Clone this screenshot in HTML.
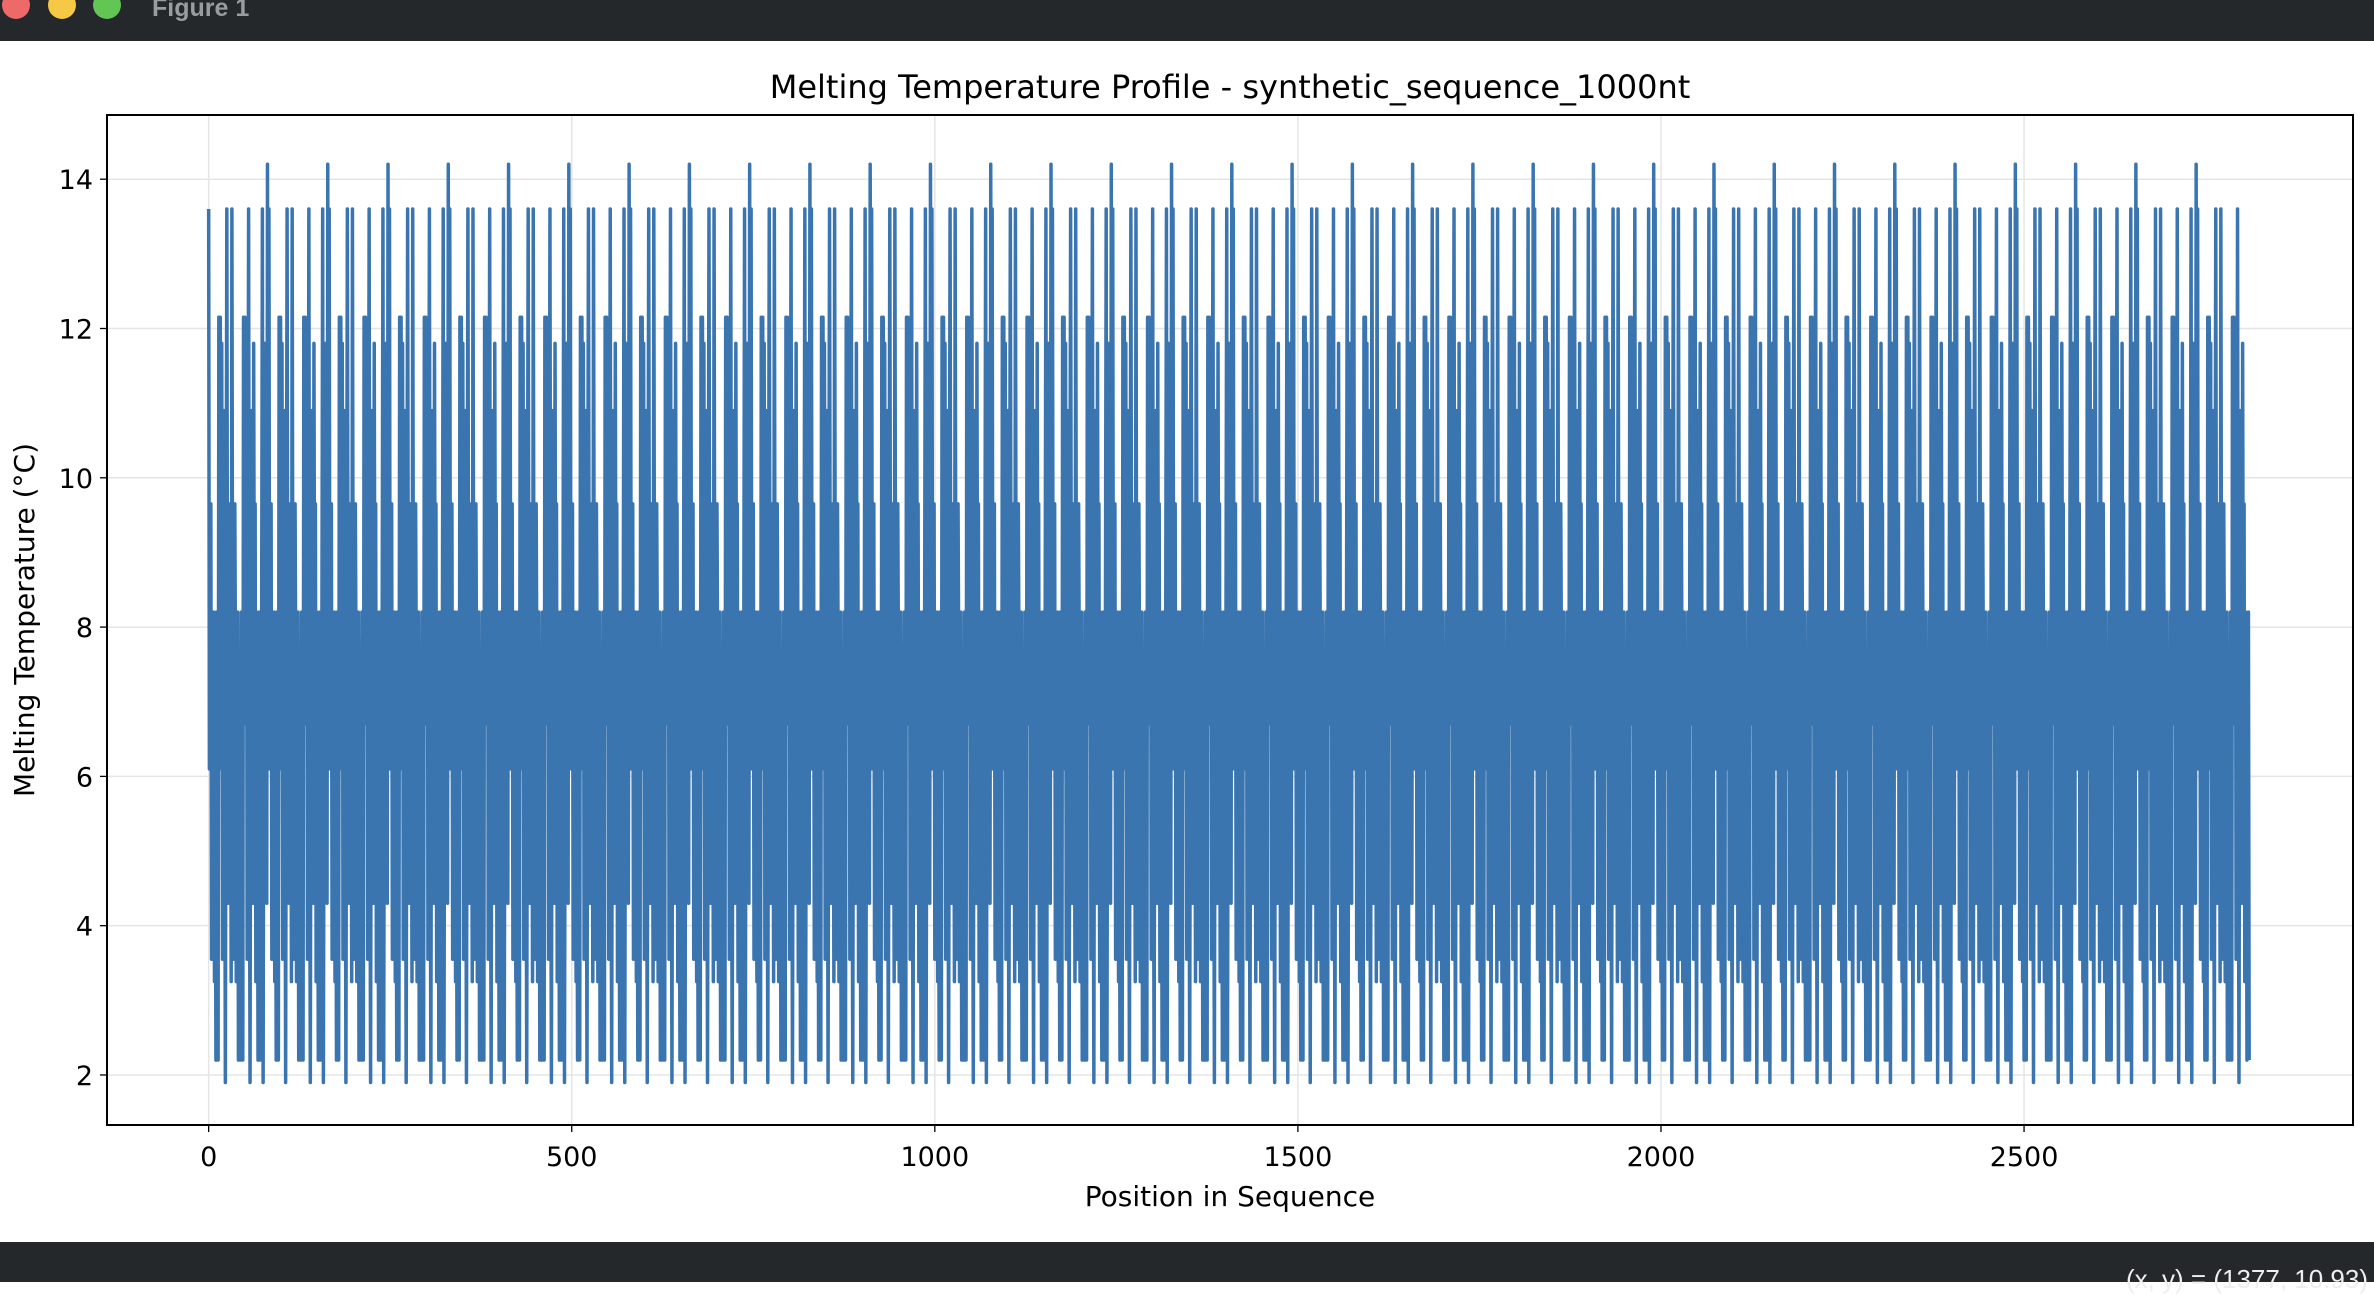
<!DOCTYPE html>
<html><head><meta charset="utf-8"><style>
body{margin:0;width:2374px;height:1282px;background:#fff;overflow:hidden;font-family:"DejaVu Sans","Liberation Sans",sans-serif}
#top{position:absolute;left:0;top:0;width:2374px;height:41px;background:#24282b}
#bot{position:absolute;left:0;top:1242px;width:2374px;height:40px;background:#24282b}
.dot{position:absolute;top:-9px;width:28px;height:28px;border-radius:50%}
</style></head><body>
<div id="top">
<div class="dot" style="left:2px;background:#ee6a69"></div>
<div class="dot" style="left:48px;background:#f5c945"></div>
<div class="dot" style="left:93px;background:#62c554"></div>
<div style="position:absolute;left:152px;top:-6px;color:#9a9d9f;font:bold 25px 'Liberation Sans',sans-serif">Figure 1</div>
</div>
<div id="bot">
<div style="position:absolute;right:6px;top:22px;color:#eee;font:26px 'Liberation Sans',sans-serif">(x, y) = (1377, 10.93)</div>
</div>
<svg id="chart" width="2374" height="1282" style="position:absolute;left:0;top:0">
<g id="grid"></g><g id="series"></g><g id="axes"></g>
</svg>
<script>
const motif=[13.6,6.1,8.2,9.65,3.55,7.3,4.7,8.2,3.25,6.7,2.2,8.2,7.3,2.2,12.15,6.1,12.15,7.3,11.8,3.55,8.2,10.9,6.7,1.9,8.2,13.6,7.3,4.3,9.65,6.1,8.2,3.25,13.6,7.3,3.55,8.2,9.65,7.3,3.25,6.7,8.2,2.2,7.3,6.1,2.2,8.2,7.3,2.2,12.15,6.7,12.15,7.3,11.8,3.55,8.2,13.6,6.1,1.9,8.2,10.9,7.3,4.3,11.8,6.7,9.65,3.25,8.2,6.7,2.2,7.3,8.2,2.2,6.1,8.2,13.6,1.9,7.3,11.8,6.7,10.9,4.3,14.2,7.3];
const seriesLength=2811;
const xTicks=[0,500,1000,1500,2000,2500];
const yTicks=[2,4,6,8,10,12,14];
const values=[];for(let i=0;i<seriesLength;i++)values.push(motif[i%motif.length]);
const L=107,R=2353,T=115,B=1125,x0=-140,x1=2953,y0=1.33,y1=14.86;
const X=v=>L+(v-x0)/(x1-x0)*(R-L), Y=v=>B-(v-y0)/(y1-y0)*(B-T);
const NS="http://www.w3.org/2000/svg";
function mk(tag,at,par){const e=document.createElementNS(NS,tag);for(const k in at)e.setAttribute(k,at[k]);par.appendChild(e);return e;}
const grid=document.getElementById('grid'),axes=document.getElementById('axes'),ser=document.getElementById('series');
xTicks.forEach(t=>{const g=mk('line',{x1:X(t),x2:X(t),y1:T,y2:B,stroke:'#e5e5e5','stroke-width':1.5},grid);

const k=mk('line',{x1:X(t),x2:X(t),y1:B,y2:B+7,stroke:'#000','stroke-width':1.3},axes);

const tx=mk('text',{x:X(t),y:B+41,'text-anchor':'middle','font-size':27,fill:'#000'},axes);tx.textContent=t;
});
yTicks.forEach(t=>{const g=mk('line',{x1:L,x2:R,y1:Y(t),y2:Y(t),stroke:'#e5e5e5','stroke-width':1.5},grid);

const k=mk('line',{x1:L-7,x2:L,y1:Y(t),y2:Y(t),stroke:'#000','stroke-width':1.3},axes);

const tx=mk('text',{x:L-14,y:Y(t)+10,'text-anchor':'end','font-size':27,fill:'#000'},axes);tx.textContent=t;
});
let d='';values.forEach((v,i)=>{d+=(i?'L':'M')+X(i).toFixed(2)+' '+Y(v).toFixed(2);});
const p=mk('path',{d:d,fill:'none',stroke:'#3a75b0','stroke-width':3.5,'stroke-linejoin':'round'},ser);

const fr=mk('rect',{x:L,y:T,width:R-L,height:B-T,fill:'none',stroke:'#000','stroke-width':2},axes);

const ti=mk('text',{x:(L+R)/2,y:98,'text-anchor':'middle','font-size':32,fill:'#000'},axes);ti.textContent='Melting Temperature Profile - synthetic_sequence_1000nt';

const xl=mk('text',{x:(L+R)/2,y:1206,'text-anchor':'middle','font-size':28,fill:'#000'},axes);xl.textContent='Position in Sequence';

const yl=mk('text',{x:0,y:0,'text-anchor':'middle','font-size':28,fill:'#000',transform:`translate(34,${(T+B)/2}) rotate(-90)`},axes);yl.textContent='Melting Temperature (°C)';

</script>
</body></html>
